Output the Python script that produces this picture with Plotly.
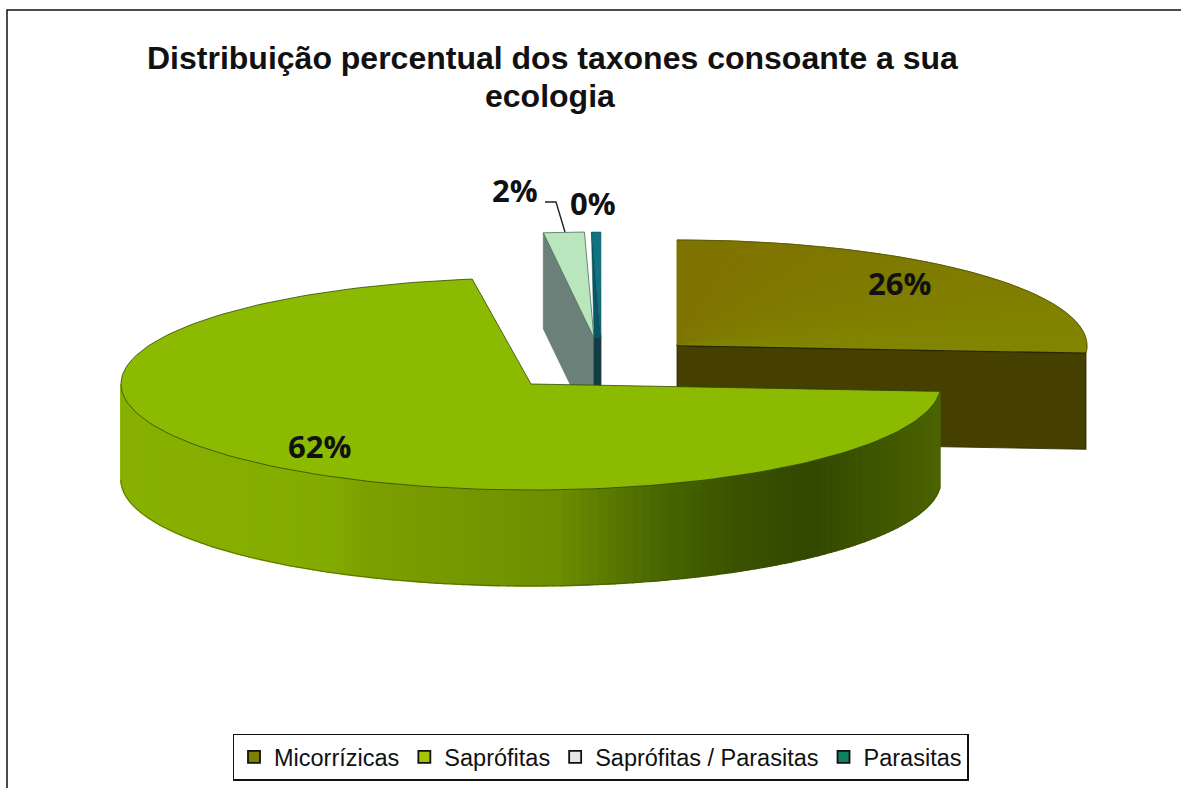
import math
import plotly.graph_objects as go

# --- data -------------------------------------------------------------
categories = ["Micorrízicas", "Saprófitas", "Saprófitas / Parasitas", "Parasitas"]
labels = ["26%", "62%", "2%", "0%"]
# share of the circle each slice actually covers in the drawing (percent)
shares = [26.1, 71.6, 1.6, 0.37]
# where each slice starts, degrees clockwise from 12 o'clock
starts = [0.0, 94.0, 352.9, 358.66]
top_colors = ["#7f7f00", "#8cba00", "#b9e6bd", "#0f7480"]
wall_colors = ["#453f00", "#85a800", "#6a8078", "#143c44"]
legend_colors = ["#808000", "#a4c800", "#e6e6e6", "#108060"]
title_lines = ["Distribuição percentual dos taxones consoante a sua", "ecologia"]

# --- picture geometry (exploded slices, pixel-like axes) ----------------
W, H = 1181, 788
A, B, DEPTH = 410, 106, 96
apexes = [(677, 346), (531, 384), (594, 338), (601, 338)]
label_pos = [(899, 283), (319, 446), (515, 190), (593, 203)]
title_pos = [(552.5, 58), (550, 96)]


def rim(ax, ay, t0, t1, n=80, dy=0):
    pts = []
    for i in range(n + 1):
        t = math.radians(t0 + (t1 - t0) * i / n)
        pts.append((ax + A * math.sin(t), ay - B * math.cos(t) + dy))
    return pts


def poly(fig, pts, fill, line=None, lw=0.8):
    xs = [p[0] for p in pts] + [pts[0][0]]
    ys = [p[1] for p in pts] + [pts[0][1]]
    fig.add_trace(go.Scatter(x=xs, y=ys, mode="lines", fill="toself", fillcolor=fill,
                             line=dict(color=line or fill, width=lw), hoverinfo="skip",
                             showlegend=False))


def outline(fig, pts, color, lw=0.8):
    fig.add_trace(go.Scatter(x=[p[0] for p in pts], y=[p[1] for p in pts], mode="lines",
                             line=dict(color=color, width=lw), hoverinfo="skip", showlegend=False))


def mix(c1, c2, f):
    a = [int(c1[i:i + 2], 16) for i in (1, 3, 5)]
    b = [int(c2[i:i + 2], 16) for i in (1, 3, 5)]
    return "#%02x%02x%02x" % tuple(round(p + (q - p) * f) for p, q in zip(a, b))


fig = go.Figure()

ang = [(st, st + s * 3.6) for st, s in zip(starts, shares)]

# brown slice
ax, ay = apexes[0]
t0, t1 = ang[0]
end = rim(ax, ay, t1, t1, 1)[0]
poly(fig, [(ax, ay), end, (end[0], end[1] + DEPTH), (ax, ay + DEPTH)], wall_colors[0], "#2a2600")
n_fan = 40
for i in range(n_fan):
    a0 = t0 + (t1 - t0) * i / n_fan
    a1 = t0 + (t1 - t0) * (i + 1) / n_fan
    poly(fig, [(ax, ay)] + rim(ax, ay, a0, a1, 3), mix("#7f7200", "#808600", i / (n_fan - 1)), None, 1)
outline(fig, rim(ax, ay, t0, t1), "#55550a", 0.8)
outline(fig, [(ax, ay), end], "#2a2600", 1.4)

# pale slice
ax, ay = apexes[2]
t0, t1 = ang[2]
p0 = rim(ax, ay, t0, t0, 1)[0]
p1 = rim(ax, ay, t1, t1, 1)[0]
poly(fig, [p0, (ax, ay), (ax, ay + DEPTH), (p0[0], p0[1] + DEPTH)], wall_colors[2], None)
poly(fig, [(ax, ay), p0, p1], top_colors[2], "#4d6a5c")

# teal slice: cut face, top and lower wall
ax, ay = apexes[3]
t0, t1 = ang[3]
p0 = rim(ax, ay, t0, t0, 1)[0]
p1 = rim(ax, ay, t1, t1, 1)[0]
poly(fig, [(ax, ay), (ax, ay + DEPTH), (ax - 7, ay + DEPTH), (ax - 7, ay)], wall_colors[3], None)
poly(fig, [p0, (ax - 7, ay), (ax, ay)], "#0b5663", None, 0.5)
poly(fig, [(ax, ay), p0, p1], top_colors[3], "#0c4650", 0.5)

# large green slice: shaded wall, one strip at a time
ax, ay = apexes[1]
t0, t1 = ang[1]
vis_end = 270.0
n_strips = 140
# wall colour by horizontal position on the rim, -1 (left) to +1 (right)
wall_stops = [(-1.0, "#88b000"), (-0.5, "#84ac00"), (-0.4, "#7c9f00"), (0.05, "#6e9000"),
              (0.3, "#4a6800"), (0.5, "#3a5200"), (0.68, "#324800"), (1.0, "#4c6400")]
for i in range(n_strips):
    a0 = t0 + (vis_end - t0) * i / n_strips
    a1 = t0 + (vis_end - t0) * (i + 1) / n_strips
    f = math.sin(math.radians((a0 + a1) / 2))
    col = wall_stops[-1][1]
    for (f0, c0), (f1, c1) in zip(wall_stops, wall_stops[1:]):
        if f0 <= f <= f1:
            col = mix(c0, c1, (f - f0) / (f1 - f0))
            break
    upper = rim(ax, ay, a0, a1, 3)
    lower = [(x, y + DEPTH) for x, y in reversed(upper)]
    poly(fig, upper + lower, col, None, 1.4)
poly(fig, [(ax, ay)] + rim(ax, ay, t0, t1, 160), top_colors[1], "#2d4a00")
# outline along the bottom of the wall
outline(fig, rim(ax, ay, t0, vis_end, 120, DEPTH), "#3a5000", 0.6)

# leader line for the 2% label
outline(fig, [(545, 202), (556, 202), (565, 232)], "#222222", 1.4)

# legend entries
for name, col in zip(categories, legend_colors):
    fig.add_trace(go.Scatter(x=[None], y=[None], mode="markers", name=name,
                             marker=dict(symbol="square", size=12, color=col,
                                         line=dict(color="#111111", width=1.8))))

annotations = [dict(x=x, y=y, text=f"<b>{t}</b>", showarrow=False, xref="x", yref="y",
                    font=dict(family="Open Sans", size=31, color="#111111"))
               for t, (x, y) in zip(labels, label_pos)]
for line, (x, y) in zip(title_lines, title_pos):
    annotations.append(dict(x=x, y=y, xref="x", yref="y", showarrow=False, text=f"<b>{line}</b>",
                            font=dict(family="Liberation Sans", size=32, color="#111111")))

fig.update_layout(
    width=W, height=H, margin=dict(l=0, r=0, t=0, b=0),
    paper_bgcolor="white", plot_bgcolor="white",
    xaxis=dict(range=[0, W], visible=False, fixedrange=True),
    yaxis=dict(range=[H, 0], visible=False, fixedrange=True),
    annotations=annotations,
    shapes=[dict(type="rect", xref="x", yref="y", x0=7, y0=10, x1=1300, y1=900,
                 line=dict(color="#111111", width=1.5), layer="below")],
    legend=dict(orientation="h", x=600.5 / W, y=1 - 757 / H, xanchor="center", yanchor="middle",
                bgcolor="white", bordercolor="#111111", borderwidth=1.5,
                font=dict(family="Liberation Sans", size=23.5, color="#111111"),
                itemwidth=30, tracegroupgap=0),
)
fig.write_html("out.html", config={"displayModeBar": False},
               post_script="document.body.style.margin='0';")
